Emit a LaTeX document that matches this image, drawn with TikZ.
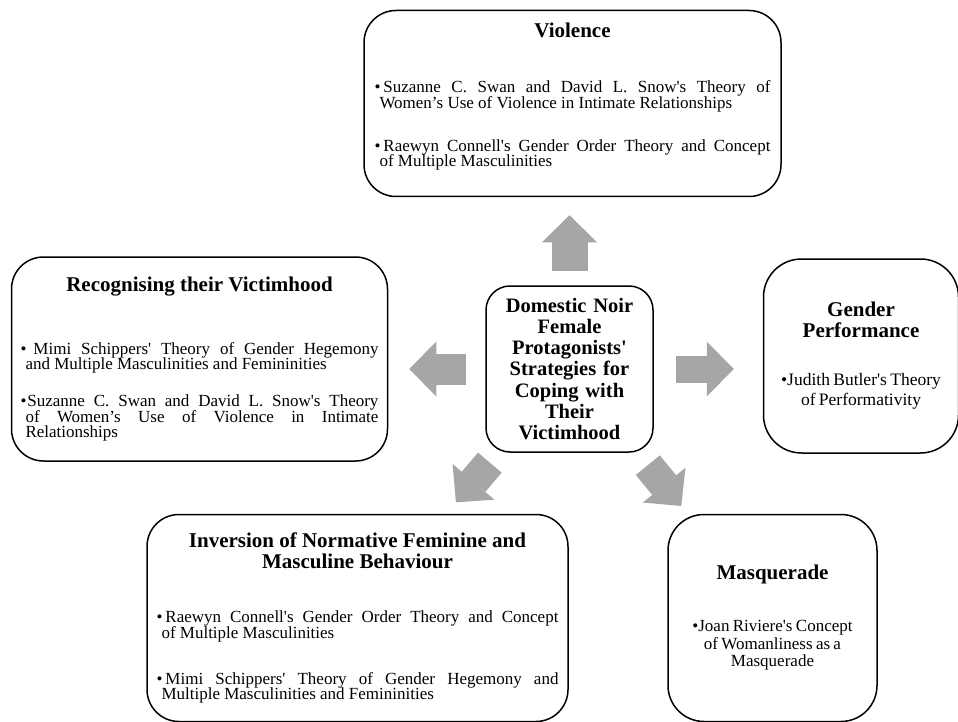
\documentclass[tikz,border=0pt]{standalone}
\usepackage{fontspec}
\setmainfont{Liberation Serif}
\usetikzlibrary{positioning,arrows.meta}

\definecolor{arrowgrey}{RGB}{166,166,166}

\newcommand{\sq}{\textquotesingle}
\newcommand{\titletext}{\fontsize{21}{21}\selectfont\bfseries}
\newcommand{\coretext}{\fontsize{20.5}{21.3}\selectfont\bfseries}
\newcommand{\bodytext}[2][17]{\fontsize{#1}{#2}\selectfont\lineskiplimit=-20pt}
\newcommand{\bpar}[2][3pt]{\par\noindent\hangindent=5pt\hangafter=1\hyphenpenalty=10000\tolerance=10000\textbullet\hspace{#1}#2\par}

\begin{document}
\begin{tikzpicture}
    \tikzstyle{topic} = [rectangle, draw, line width=1.5pt, rounded corners=32pt,
        inner xsep=5pt, inner ysep=0pt]
    \tikzstyle{arrow} = [arrowgrey, line width=31pt,
        -{Triangle[width=55pt, length=27pt, line width=0pt]}]

    \useasboundingbox (0,0) rectangle (958pt,-722pt);

    \node [topic, rounded corners=24pt, text width=151pt, align=center, font=\coretext,
        minimum width=167pt, minimum height=166pt] (core) at (569.5pt,-369pt)
        {Domestic Noir\\Female\\Protagonists\sq\\Strategies for\\Coping with\\Their\\Victimhood};

    \node [topic, above=88pt of core, xshift=3pt, text width=396pt, align=justify,
        minimum width=417pt, minimum height=186pt] (violence)
        {{\centering\titletext Violence\par}
         \vspace{39.5pt}\bodytext{15.5}
         \bpar{Suzanne C. Swan and David L. Snow\sq s Theory of\linebreak Women’s Use of Violence in Intimate Relationships}
         \vspace{27.5pt}
         \bpar{Raewyn Connell\sq s Gender Order Theory and Concept\linebreak of Multiple Masculinities}
         \vspace{5pt}\mbox{}};

    \node [topic, left=97pt of core, yshift=10pt, text width=358pt, align=justify,
        minimum width=376pt, minimum height=204pt] (victim)
        {{\centering\titletext Recognising their Victimhood\par}
         \vspace{47.5pt}\bodytext{15.5}
         \bpar[7pt]{Mimi Schippers\sq{} Theory of Gender Hegemony\linebreak and Multiple Masculinities and Femininities}
         \vspace{21.5pt}
         \bpar[1pt]{Suzanne C. Swan and David L. Snow\sq s Theory\linebreak of Women’s Use of Violence in Intimate\linebreak Relationships}};

    \node [topic, right=109pt of core, yshift=13pt, rounded corners=38pt, text width=185pt,
        align=center, minimum width=195pt, minimum height=194pt] (gender)
        {{\titletext Gender\\Performance\par}
         \vspace{28pt}
         {\bodytext[17.5]{20}\hyphenpenalty=10000\textbullet Judith Butler\sq s Theory\\of Performativity\par}};

    \node [topic, below=61pt of core, xshift=-212pt, text width=402pt, align=justify,
        minimum width=421pt, minimum height=207pt] (inversion)
        {{\centering\titletext Inversion of Normative Feminine and\\Masculine Behaviour\par}
         \vspace{38.5pt}\bodytext{15.5}
         \bpar{Raewyn Connell\sq s Gender Order Theory and Concept\linebreak of Multiple Masculinities}
         \vspace{30.5pt}
         \bpar{Mimi Schippers\sq{} Theory of Gender Hegemony and\linebreak Multiple Masculinities and Femininities}};

    \node [topic, below=61pt of core, xshift=203pt, rounded corners=36pt, text width=190pt,
        align=center, minimum width=209pt, minimum height=207pt] (masquerade)
        {{\titletext Masquerade\par}
         \vspace{34.5pt}
         {\bodytext{17.5}\textbullet Joan Riviere\sq s Concept\\of Womanliness as a\\Masquerade\par}};

    % block arrows out of the centre box
    \draw [arrow, line width=36pt, shorten <=14pt, shorten >=18pt] (core.north) -- (core.north |- violence.south);
    \draw [arrow, shorten <=19pt, shorten >=21pt] (core.west) -- (core.west -| victim.east);
    \draw [arrow, line width=27pt, shorten <=22pt, shorten >=29pt] (core.east) -- (core.east -| gender.west);
    \draw [arrow, shorten <=13pt, shorten >=15pt] (core) -- (inversion);
    \draw [arrow, shorten <=16pt, shorten >=10pt] (core) -- (masquerade);
\end{tikzpicture}
\end{document}
